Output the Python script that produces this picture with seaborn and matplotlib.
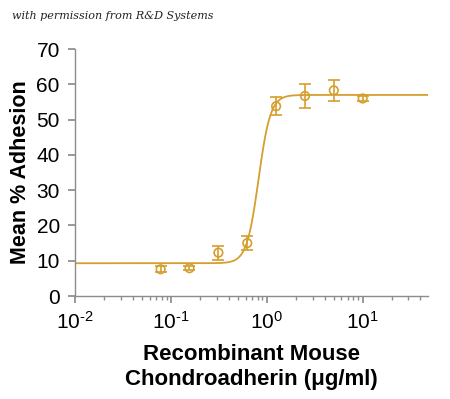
import matplotlib
matplotlib.use("Agg")
import matplotlib.pyplot as plt
import numpy as np
import pandas as pd
import seaborn as sns

# Measured points (concentration in ug/ml, mean % adhesion, error)
conc = [0.078, 0.156, 0.3125, 0.625, 1.25, 2.5, 5.0, 10.0]
adhesion = [7.6, 7.9, 12.3, 15.0, 53.8, 56.7, 58.3, 56.0]
error = [0.8, 0.5, 2.0, 2.0, 2.5, 3.5, 3.0, 0.6]

# Four-parameter logistic fit
fit_bottom = 9.3
fit_top = 57.0
fit_ec50 = 0.82
fit_hill = 7.0

COLOR = "#D69E2E"
AXIS_GRAY = "#8C8C8C"

sns.set_theme(style="ticks")
plt.rcParams["font.family"] = ["Liberation Sans", "DejaVu Sans"]
plt.rcParams.update({
    "text.color": "black",
    "axes.labelcolor": "black",
    "xtick.labelcolor": "black",
    "ytick.labelcolor": "black",
    "mathtext.fontset": "custom",
    "mathtext.rm": "Liberation Sans",
    "mathtext.it": "Liberation Sans:italic",
    "mathtext.bf": "Liberation Sans:bold",
})

df = pd.DataFrame({"conc": conc, "adhesion": adhesion, "error": error})
xs = np.logspace(-2, np.log10(48), 400)
curve = pd.DataFrame({
    "conc": xs,
    "adhesion": fit_bottom + (fit_top - fit_bottom) / (1 + (fit_ec50 / xs) ** fit_hill),
})

fig = plt.figure(figsize=(4.5, 3.99), dpi=100)
ax = fig.add_axes([0.167, 0.258, 0.784, 0.619])

sns.lineplot(data=curve, x="conc", y="adhesion", color=COLOR, linewidth=1.3, ax=ax)
ax.errorbar(df["conc"], df["adhesion"], yerr=df["error"], fmt="none",
            ecolor=COLOR, elinewidth=1.2, capsize=4, capthick=1.2)
sns.scatterplot(data=df, x="conc", y="adhesion", ax=ax, s=38,
                facecolor="none", edgecolor=COLOR, linewidth=1.2, zorder=5)

ax.set_xscale("log")
ax.set_xlim(0.01, 48)
ax.set_ylim(0, 70)
ax.set_yticks(range(0, 71, 10))
ax.set_xticks([0.01, 0.1, 1, 10])
ax.set_xticklabels([r"10$^{\text{-}2}$", r"10$^{\text{-}1}$", r"10$^{0}$", r"10$^{1}$"])

for side in ("top", "right"):
    ax.spines[side].set_visible(False)
for side in ("left", "bottom"):
    ax.spines[side].set_color(AXIS_GRAY)
    ax.spines[side].set_linewidth(1.0)
ax.tick_params(axis="both", which="both", color=AXIS_GRAY, direction="out")
ax.tick_params(axis="both", which="major", labelsize=15, length=5, pad=6)
ax.tick_params(axis="x", which="minor", length=3)

ax.set_xlabel("Recombinant Mouse\nChondroadherin (\u03bcg/ml)",
              fontsize=16, fontweight="bold", labelpad=8, linespacing=1.2)
ax.set_ylabel("Mean % Adhesion", fontsize=15.5, fontweight="bold", labelpad=4)

fig.text(0.027, 0.952, "with permission from R&D Systems", fontsize=8,
         style="italic", family=["DejaVu Serif"], color="#222222")

fig.savefig("out.png", dpi=100)
